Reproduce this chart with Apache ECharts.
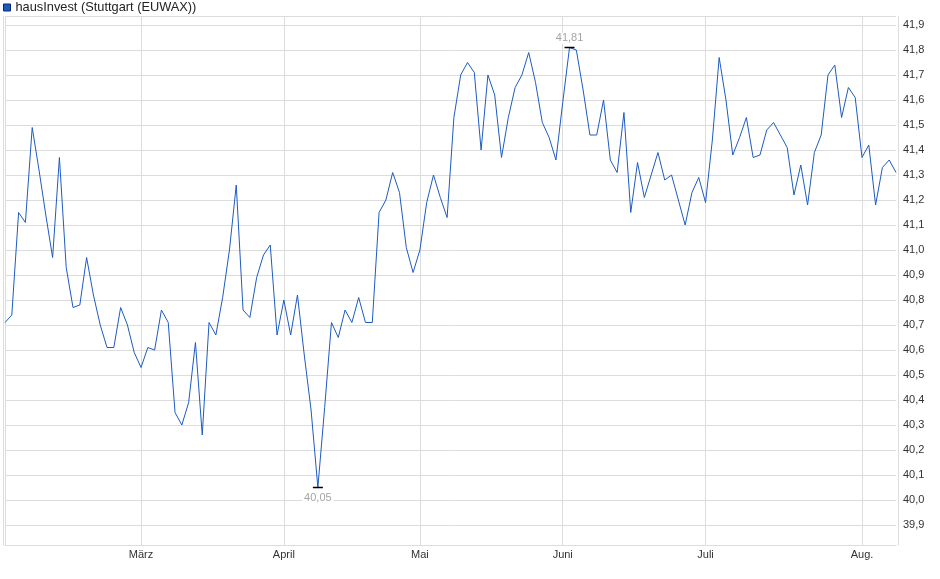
<!DOCTYPE html>
<html lang="de">
<head>
    <meta charset="UTF-8">
    <title>hausInvest (Stuttgart (EUWAX))</title>
    <script src="https://cdn.jsdelivr.net/npm/echarts@6/dist/echarts.min.js"></script>
    <style>
        html, body { margin: 0; padding: 0; background: #fff; }
    </style>
</head>
<body>
<div id="main" style="width: 940px;height:579px;"></div>

<script type="text/javascript">
    // Kurse je Handelstag, nach Monaten
    var seriesName = 'hausInvest (Stuttgart (EUWAX))';
    var monthNames = ['Feb.', 'März', 'April', 'Mai', 'Juni', 'Juli', 'Aug.'];
    var feb   = [40.71, 40.74, 41.15, 41.11, 41.49, 41.32, 41.14, 40.97, 41.37, 40.93, 40.77, 40.78, 40.97, 40.82, 40.70, 40.61, 40.61, 40.77, 40.70, 40.59];
    var maerz = [40.53, 40.61, 40.60, 40.76, 40.71, 40.35, 40.30, 40.39, 40.63, 40.26, 40.71, 40.66, 40.81, 41.00, 41.26, 40.76, 40.73, 40.89, 40.98, 41.02, 40.66];
    var april = [40.80, 40.66, 40.82, 40.58, 40.36, 40.05, 40.37, 40.71, 40.65, 40.76, 40.71, 40.81, 40.71, 40.71, 41.15, 41.20, 41.31, 41.23, 41.01, 40.91];
    var mai   = [41.00, 41.19, 41.30, 41.21, 41.13, 41.53, 41.70, 41.75, 41.71, 41.40, 41.70, 41.62, 41.37, 41.53, 41.65, 41.70, 41.79, 41.67, 41.51, 41.45, 41.36];
    var juni  = [41.59, 41.81, 41.80, 41.64, 41.46, 41.46, 41.60, 41.36, 41.31, 41.55, 41.15, 41.35, 41.21, 41.30, 41.39, 41.28, 41.30, 41.20, 41.10, 41.23, 41.29];
    var juli  = [41.19, 41.44, 41.77, 41.60, 41.38, 41.45, 41.53, 41.37, 41.38, 41.48, 41.51, 41.46, 41.41, 41.22, 41.34, 41.18, 41.39, 41.46, 41.70, 41.74, 41.53, 41.65, 41.61];
    var aug   = [41.37, 41.42, 41.18, 41.33, 41.36, 41.31];

    var yTicksMin = 39.82, yTicksMax = 41.936;

    var months = [feb, maerz, april, mai, juni, juli, aug];
    var categories = [], values = [], monthStart = {};
    months.forEach(function (m, mi) {
        monthStart[categories.length] = true;
        m.forEach(function (v, di) {
            categories.push(monthNames[mi] + '|' + (di + 1));
            values.push(v);
        });
    });

    var font = 'Arial, "Liberation Sans", sans-serif';
    var gridColor = '#dcdcdc';
    function komma(v, d) { return Number(v).toFixed(d).replace('.', ','); }

    var myChart = echarts.init(document.getElementById('main'));
    myChart.setOption({
        animation: false,
        textStyle: { fontFamily: font },
        legend: {
            left: 3, top: 1, padding: 0,
            itemWidth: 7, itemHeight: 7,
            itemGap: 5,
            icon: 'rect',
            data: [seriesName],
            itemStyle: { borderColor: '#0a2a6a', borderWidth: 1 },
            textStyle: { fontSize: 12.8, color: '#222', fontFamily: font }
        },
        grid: { left: 5, right: 44, top: 16, bottom: 34 },
        xAxis: {
            type: 'category',
            boundaryGap: false,
            data: categories,
            axisLine: { show: true, lineStyle: { color: gridColor } },
            axisTick: { show: false },
            axisLabel: {
                margin: 4,
                fontSize: 11,
                color: '#333',
                fontFamily: font,
                interval: function (i) { return i > 0 && !!monthStart[i]; },
                formatter: function (v) { return v.split('|')[0]; }
            },
            splitLine: {
                show: true,
                interval: function (i) { return !!monthStart[i]; },
                lineStyle: { color: gridColor }
            }
        },
        yAxis: [{
            type: 'value',
            position: 'right',
            offset: 2,
            min: yTicksMin,
            max: yTicksMax,
            splitNumber: 21,
            axisLine: { show: true, lineStyle: { color: gridColor } },
            axisTick: { show: false },
            axisLabel: {
                margin: 5,
                fontSize: 11,
                color: '#333',
                fontFamily: font,
                showMinLabel: false,
                showMaxLabel: false,
                formatter: function (v) { return komma(v, 1); }
            },
            splitLine: { show: true, lineStyle: { color: gridColor } }
        }, {
            type: 'value',
            position: 'left',
            offset: 2,
            min: yTicksMin,
            max: yTicksMax,
            axisLine: { show: true, lineStyle: { color: gridColor } },
            axisTick: { show: false },
            axisLabel: { show: false },
            splitLine: { show: false }
        }],
        series: [{
            name: seriesName,
            type: 'line',
            data: values,
            showSymbol: false,
            symbol: 'none',
            lineStyle: { color: '#1d5bc0', width: 1 },
            itemStyle: { color: '#1d5bc0' },
            markPoint: {
                symbol: 'rect',
                symbolSize: [10, 1.5],
                itemStyle: { color: '#000' },
                data: [
                    { type: 'max', label: { position: 'top', distance: 3 } },
                    { type: 'min', label: { position: 'bottom', distance: 4 } }
                ],
                label: {
                    show: true,
                    fontSize: 11,
                    color: '#a5a5a5',
                    fontFamily: font,
                    backgroundColor: '#fff',
                    padding: [0, 2],
                    formatter: function (p) { return komma(p.value, 2); }
                }
            }
        }]
    });
</script>
</body>
</html>
